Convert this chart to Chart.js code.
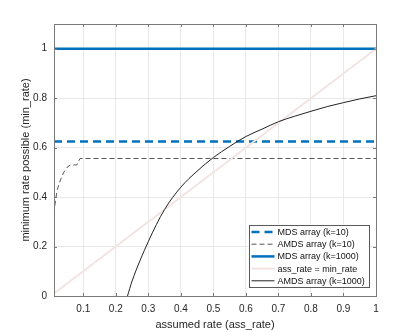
<!DOCTYPE html>
<html>
<head>
<meta charset="utf-8">
<script src="https://cdn.jsdelivr.net/npm/chart.js@4.4.1/dist/chart.umd.min.js"></script>
<style>
  html, body { margin: 0; padding: 0; background: #fff; }
  #wrap { width: 415px; height: 332px; }
</style>
</head>
<body>
<div id="wrap"><canvas id="chart-rate"></canvas></div>
<script>
// data
const seriesNames = ["MDS array (k=10)", "AMDS array (k=10)", "MDS array (k=1000)", "ass_rate = min_rate", "AMDS array (k=1000)"];

const mds10X = [0.01, 1];
const mds10Y = [0.625, 0.625];

const amds10X = [0.01, 0.012, 0.015, 0.02, 0.03, 0.04, 0.05, 0.06, 0.08, 0.09, 1];
const amds10Y = [0.30, 0.36, 0.39, 0.43, 0.47, 0.50, 0.52, 0.53, 0.53, 0.556, 0.556];

const mds1000X = [0.01, 1];
const mds1000Y = [1, 1];

const identX = [0.01, 1];
const identY = [0.01, 1];

const amds1000X = [0.236, 0.25, 0.3, 0.35, 0.4, 0.45, 0.5, 0.55, 0.6, 0.65, 0.7, 0.75, 0.8, 0.85, 0.9, 0.95, 1];
const amds1000Y = [0, 0.06, 0.22, 0.35, 0.44, 0.505, 0.56, 0.605, 0.645, 0.675, 0.705, 0.727, 0.747, 0.766, 0.782, 0.797, 0.81];

const xTicks = [0.1, 0.2, 0.3, 0.4, 0.5, 0.6, 0.7, 0.8, 0.9, 1];
const yTicks = [0, 0.2, 0.4, 0.6, 0.8, 1];

const pts = (xs, ys) => xs.map((x, i) => ({ x: x, y: ys[i] }));

const FONT = "'Liberation Sans', Arial, sans-serif";
const AXIS = '#7a7a7a';
const TXT = '#262626';

// inward ticks + box like matlab
const boxPlugin = {
  id: 'box',
  afterDatasetsDraw(chart) {
    const { ctx, chartArea: a, scales } = chart;
    ctx.save();
    ctx.strokeStyle = AXIS;
    ctx.lineWidth = 1;
    ctx.beginPath();
    xTicks.forEach(v => {
      const px = Math.round(scales.x.getPixelForValue(v)) + 0.5;
      ctx.moveTo(px, a.bottom); ctx.lineTo(px, a.bottom - 3);
      ctx.moveTo(px, a.top); ctx.lineTo(px, a.top + 3);
    });
    yTicks.forEach(v => {
      const py = Math.round(scales.y.getPixelForValue(v)) + 0.5;
      ctx.moveTo(a.left, py); ctx.lineTo(a.left + 3, py);
      ctx.moveTo(a.right, py); ctx.lineTo(a.right - 3, py);
    });
    ctx.stroke();
    ctx.strokeRect(Math.round(a.left) + 0.5, Math.round(a.top) + 0.5,
      Math.round(a.right - a.left), Math.round(a.bottom - a.top));
    ctx.restore();
  },
  afterDraw(chart) {
    // legend in the lower right corner of the plot
    const { ctx, chartArea: a } = chart;
    const w = 120, h = 62, rowH = 12.2;
    const x0 = a.right - 7.5 - w, y0 = a.bottom - 9.5 - h;
    ctx.save();
    ctx.fillStyle = '#fff';
    ctx.fillRect(x0, y0, w, h);
    ctx.strokeStyle = '#5a5a5a';
    ctx.lineWidth = 1;
    ctx.strokeRect(Math.round(x0) + 0.5, Math.round(y0) + 0.5, w, h);
    ctx.font = '9px ' + FONT;
    ctx.textBaseline = 'middle';
    chart.data.datasets.forEach((ds, i) => {
      const yy = y0 + 7.5 + i * rowH;
      ctx.beginPath();
      ctx.strokeStyle = ds.borderColor;
      ctx.lineWidth = ds.borderWidth;
      ctx.setLineDash(ds.borderDash || []);
      ctx.moveTo(x0 + 3, yy);
      ctx.lineTo(x0 + 26, yy);
      ctx.stroke();
      ctx.setLineDash([]);
      ctx.fillStyle = '#111';
      ctx.fillText(ds.label, x0 + 29, yy + 0.5);
    });
    ctx.restore();
  }
};

const ctx = document.getElementById('chart-rate').getContext('2d');
new Chart(ctx, {
  type: 'line',
  data: {
    datasets: [{
      label: seriesNames[0],
      data: pts(mds10X, mds10Y),
      borderColor: '#0072BD',
      borderWidth: 2.5,
      borderDash: [8, 5],
      order: 5
    }, {
      label: seriesNames[1],
      data: pts(amds10X, amds10Y),
      borderColor: '#555555',
      borderWidth: 1,
      borderDash: [5, 3],
      order: 4
    }, {
      label: seriesNames[2],
      data: pts(mds1000X, mds1000Y),
      borderColor: '#0072BD',
      borderWidth: 2.5,
      order: 3
    }, {
      label: seriesNames[3],
      data: pts(identX, identY),
      borderColor: '#f3e4e4',
      borderWidth: 2,
      order: 2
    }, {
      label: seriesNames[4],
      data: pts(amds1000X, amds1000Y),
      borderColor: '#222222',
      borderWidth: 1,
      cubicInterpolationMode: 'monotone',
      order: 1
    }]
  },
  options: {
    responsive: true,
    maintainAspectRatio: false,
    animation: false,
    layout: { padding: { left: 0, top: 24, right: 39, bottom: 0 } },
    elements: { point: { radius: 0 }, line: { fill: false, tension: 0 } },
    plugins: {
      legend: { display: false },
      tooltip: { enabled: false }
    },
    scales: {
      x: {
        type: 'linear',
        min: 0.01,
        max: 1,
        afterBuildTicks: s => { s.ticks = xTicks.map(v => ({ value: v })); },
        afterFit: s => { s.height = 36; },
        border: { display: false },
        grid: { color: '#e8e8e8', drawTicks: false },
        ticks: {
          padding: 7,
          color: TXT,
          font: { size: 10, family: FONT },
          maxRotation: 0,
          callback: v => String(v)
        },
        title: {
          display: true,
          text: 'assumed rate (ass_rate)',
          color: TXT,
          font: { size: 11, family: FONT },
          padding: { top: 1, bottom: 0 }
        }
      },
      y: {
        min: 0,
        max: 1.1,
        afterBuildTicks: s => { s.ticks = yTicks.map(v => ({ value: v })); },
        afterFit: s => { s.width = 54; },
        border: { display: false },
        grid: { color: '#e8e8e8', drawTicks: false },
        ticks: {
          padding: 7,
          color: TXT,
          font: { size: 10, family: FONT },
          callback: v => String(v)
        },
        title: {
          display: true,
          text: 'minimum rate possible (min_rate)',
          color: TXT,
          font: { size: 11, family: FONT },
          padding: { top: 19, bottom: 0 }
        }
      }
    }
  },
  plugins: [boxPlugin]
});
</script>
</body>
</html>
